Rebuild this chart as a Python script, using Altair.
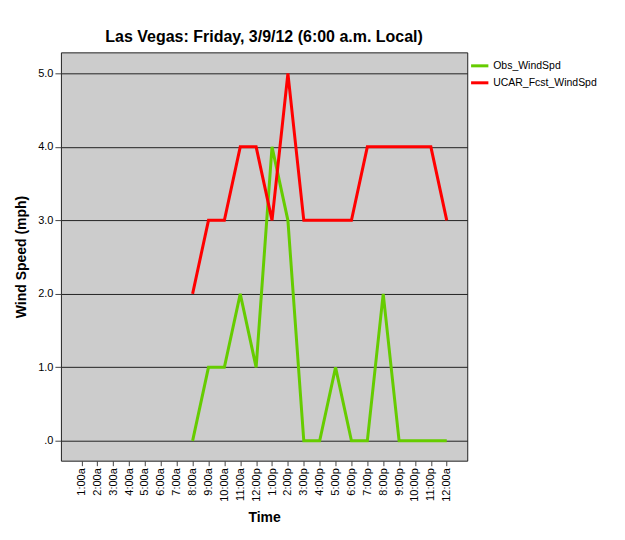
import altair as alt
import pandas as pd
import json

times = ["1:00a", "2:00a", "3:00a", "4:00a", "5:00a", "6:00a", "7:00a", "8:00a",
         "9:00a", "10:00a", "11:00a", "12:00p", "1:00p", "2:00p", "3:00p", "4:00p",
         "5:00p", "6:00p", "7:00p", "8:00p", "9:00p", "10:00p", "11:00p", "12:00a"]
obs_times = times[7:]
obs_wind = [0, 1, 1, 2, 1, 4, 3, 0, 0, 1, 0, 0, 2, 0, 0, 0, 0]
fcst_wind = [2, 3, 3, 4, 4, 3, 5, 3, 3, 3, 3, 4, 4, 4, 4, 4, 3]
series = ["Obs_WindSpd", "UCAR_Fcst_WindSpd"]
colors = ["#66cc00", "#ff0000"]

rows = []
for t, v in zip(obs_times, obs_wind):
    rows.append({"Time": t, "idx": times.index(t), "Wind": v, "Series": series[0]})
for t, v in zip(obs_times, fcst_wind):
    rows.append({"Time": t, "idx": times.index(t), "Wind": v, "Series": series[1]})
df = pd.DataFrame(rows)

font = "Liberation Sans"
label_expr = json.dumps(times) + "[datum.value]"

chart = alt.Chart(df).mark_line(strokeWidth=3).encode(
    x=alt.X("idx:Q",
            scale=alt.Scale(domain=[-1.29, len(times) - 1 + 1.29], nice=False, zero=False),
            axis=alt.Axis(title="Time", values=list(range(len(times))), labelExpr=label_expr,
                          labelAngle=-90, labelFontSize=11, labelColor="#000",
                          labelFont=font, tickColor="#444", tickSize=5, domain=False,
                          labelPadding=2, labelOverlap=False, labelFlush=False,
                          titleFont=font, titleFontSize=14,
                          titleFontWeight="bold", titleY=50, titleBaseline="top",
                          grid=False)),
    y=alt.Y("Wind:Q", scale=alt.Scale(domain=[-0.27, 5.285], nice=False, zero=False),
            axis=alt.Axis(title="Wind Speed (mph)", values=[0, 1, 2, 3, 4, 5],
                          labelExpr="datum.value == 0 ? '.0' : format(datum.value, '.1f')",
                          labelFontSize=11, labelColor="#000", labelFont=font,
                          tickColor="#444", tickSize=6, labelPadding=2, domain=False,
                          grid=True, gridColor="#222", gridWidth=1, gridOpacity=1,
                          titleFont=font, titleFontSize=14, titleFontWeight="bold",
                          titleX=-39, titleBaseline="middle", titleAngle=-90)),
    color=alt.Color("Series:N", scale=alt.Scale(domain=series, range=colors),
                    legend=alt.Legend(title=None, orient="none", legendX=409, legendY=3,
                                      symbolType="stroke", symbolSize=300,
                                      symbolStrokeWidth=3, labelFontSize=10.5,
                                      labelFont=font, labelColor="#000",
                                      rowPadding=0, labelOffset=3)),
    detail="Series:N",
).properties(
    width=407, height=409,
    background="white",
    title=alt.TitleParams("Las Vegas: Friday, 3/9/12 (6:00 a.m. Local)", font=font,
                          fontSize=16, fontWeight="bold", color="#000", offset=7,
                          anchor="middle"),
    autosize=alt.AutoSizeParams(type="none"),
    padding={"left": 53, "top": 44, "right": 150, "bottom": 70},
).configure_view(
    fill="#cccccc", stroke="#222", strokeWidth=1
)

chart.save("out.html", embed_options={"renderer": "svg", "actions": False})
